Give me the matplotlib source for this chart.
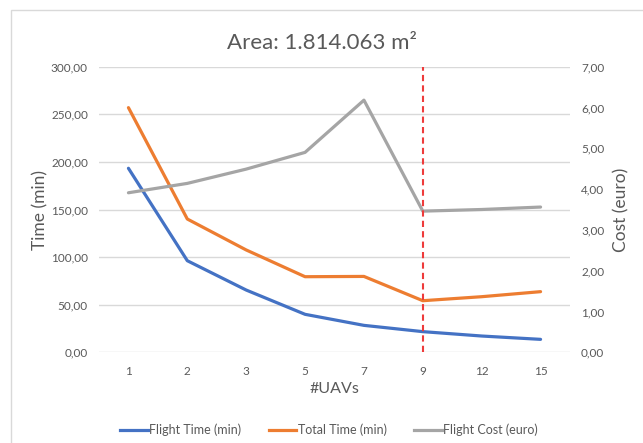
import matplotlib.pyplot as plt
from matplotlib.patches import Rectangle
from matplotlib.lines import Line2D
import numpy as np

# Chart data
uavs = ['1', '2', '3', '5', '7', '9', '12', '15']
flight_time = [193.3, 96.2, 65.4, 39.9, 28.3, 21.7, 17.1, 13.6]
total_time = [257.0, 140.0, 107.5, 79.4, 79.7, 54.2, 58.4, 63.7]
flight_cost = [3.91, 4.14, 4.49, 4.90, 6.18, 3.46, 3.50, 3.56]
marked_uavs = '9'

time_ticks = [0, 50, 100, 150, 200, 250, 300]
cost_ticks = [0, 1, 2, 3, 4, 5, 6, 7]

plt.rcParams['font.family'] = ['Lato', 'DejaVu Sans']
txt = '#595959'
grid = '#D9D9D9'

fig = plt.figure(figsize=(6.43, 4.43), dpi=100)
ax = fig.add_axes([99 / 643, 1 - 352.3 / 443, 471 / 643, 285.6 / 443])
ax2 = ax.twinx()

x = np.arange(len(uavs))

# Left axis (time)
ax.plot(x, flight_time, color='#4472C4', lw=2.3, solid_capstyle='round', zorder=3)
ax.plot(x, total_time, color='#ED7D31', lw=2.3, solid_capstyle='round', zorder=3)
ax.set_ylim(0, 300)
ax.set_yticks(time_ticks)
ax.set_yticklabels([f'{v:.2f}'.replace('.', ',') for v in time_ticks])
ax.set_xlim(-0.5, len(uavs) - 0.5)
ax.set_xticks(x)
ax.set_xticklabels(uavs)
ax.grid(axis='y', color=grid, lw=1)
ax.set_axisbelow(True)
ax.set_ylabel('Time (min)', fontsize=12.5, color=txt)
ax.yaxis.set_label_coords(-0.108, 0.5)
ax.set_xlabel('#UAVs', fontsize=11.5, color=txt)
ax.xaxis.set_label_coords(0.5, -0.105)

# Right axis (cost)
ax2.plot(x, flight_cost, color='#A5A5A5', lw=2.3, solid_capstyle='round', zorder=3)
ax2.set_ylim(0, 7)
ax2.set_yticks(cost_ticks)
ax2.set_yticklabels([f'{v:.2f}'.replace('.', ',') for v in cost_ticks])
ax2.set_ylabel('Cost (euro)', fontsize=12.5, color=txt)
ax2.yaxis.set_label_coords(1.091, 0.5)

# red dashed marker line
xm = uavs.index(marked_uavs)
ax2.vlines(xm, 0, 7, colors='#EE3B3B', linestyles=(0, (3, 2)), lw=1.5, zorder=4)

for a in (ax, ax2):
    for s in a.spines.values():
        s.set_visible(False)
    a.tick_params(length=0, labelsize=8.5, colors=txt, pad=8)
ax.tick_params(axis='x', pad=10)

ax.set_title('Area: 1.814.063 m²', fontsize=16, color=txt, pad=13,
             x=(322 - 99) / 471)

handles = [Line2D([], [], color='#4472C4', lw=2.3),
           Line2D([], [], color='#ED7D31', lw=2.3),
           Line2D([], [], color='#A5A5A5', lw=2.3)]
fig.legend(handles, ['Flight Time (min)', 'Total Time (min)', 'Flight Cost (euro)'],
           loc='center', bbox_to_anchor=(329 / 643, 1 - 430 / 443), ncol=3,
           frameon=False, fontsize=9, labelcolor=txt, handlelength=2.2,
           handletextpad=0.1, columnspacing=2.2)

# chart border
fig.patches.append(Rectangle((11 / 643, -0.1), 1.1, 1 - 10 / 443 + 0.1,
                             transform=fig.transFigure, fill=False,
                             edgecolor=grid, lw=1))

fig.savefig('out.png', dpi=100)
